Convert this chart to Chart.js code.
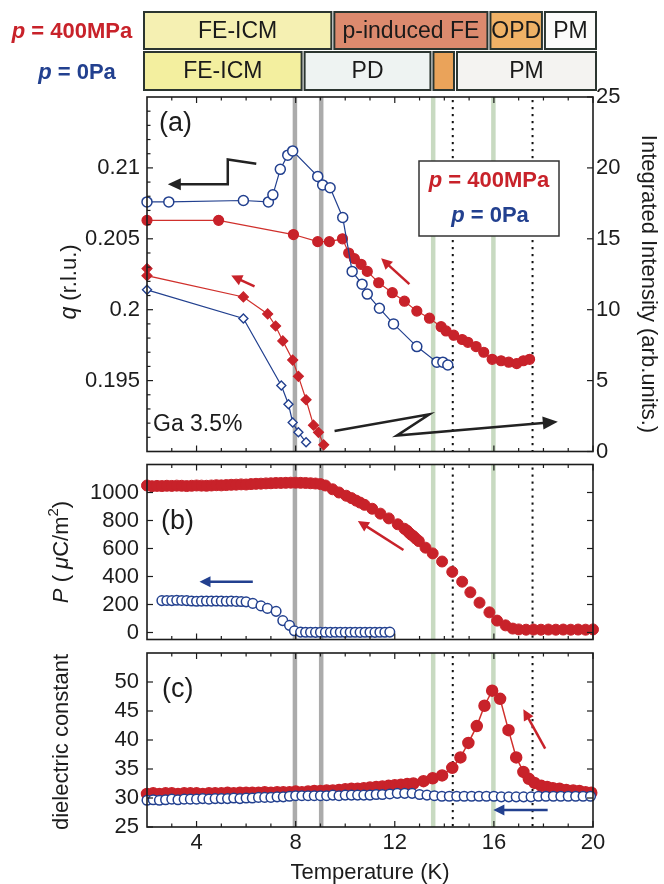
<!DOCTYPE html>
<html><head><meta charset="utf-8">
<script src="https://cdn.jsdelivr.net/npm/chart.js@4.4.0/dist/chart.umd.min.js"></script>
<style>
html,body{margin:0;padding:0;background:#fff;}
#wrap{position:relative;width:664px;height:884px;overflow:hidden;}
canvas{position:absolute;left:0;}
</style></head><body>
<div id="wrap">
<canvas id="cA" style="top:0px" width="664" height="458"></canvas>
<canvas id="cB" style="top:458px" width="664" height="188"></canvas>
<canvas id="cC" style="top:646px" width="664" height="238"></canvas>
</div>
<script>
// ---------------- DATA ----------------
const xTicks = [4, 8, 12, 16, 20];
const xTickLabels = ['4', '8', '12', '16', '20'];
const xMinorTicks = [3, 5, 6, 7, 9, 10, 11, 13, 14, 15, 17, 18, 19];

const grayLinesT = [7.97, 9.03];
const greenLinesT = [13.55, 15.98];
const dottedLinesT = [14.34, 17.56];

const phases400 = ['FE-ICM', 'p-induced FE', 'OPD', 'PM'];
const phases400Bounds = [2, 9.5, 15.8, 18.0, 20];
const phases0 = ['FE-ICM', 'PD', '', 'PM'];
const phases0Bounds = [2, 8.3, 13.5, 14.45, 20];

// panel (a)
const qTicks = [0.195, 0.2, 0.205, 0.21];
const qTickLabels = ['0.195', '0.2', '0.205', '0.21'];
const intTicks = [0, 5, 10, 15, 20, 25];
const intTickLabels = ['0', '5', '10', '15', '20', '25'];

const qBlueT = [2.0, 2.88, 5.89, 6.9, 7.08, 7.38, 7.68, 7.88, 8.89, 9.09, 9.39, 9.9, 10.28, 10.68, 10.89, 11.38, 11.95, 12.89, 13.7, 13.94, 14.14];
const qBlue  = [0.2076, 0.2076, 0.2077, 0.2076, 0.2081, 0.2099, 0.2109, 0.2112, 0.2094, 0.2088, 0.2086, 0.2065, 0.2027, 0.2018, 0.2011, 0.2001, 0.1990, 0.1974, 0.1963, 0.1963, 0.1961];

const qRedT = [2.0, 4.89, 7.91, 8.89, 9.36, 9.89, 10.14, 10.37, 10.64, 10.89, 11.35, 11.9, 12.39, 12.89, 13.4, 13.87, 14.07, 14.38, 14.72, 14.95, 15.28, 15.59, 15.93, 16.29, 16.6, 16.92, 17.19, 17.44];
const qRed  = [0.2063, 0.2063, 0.2053, 0.2048, 0.2048, 0.2050, 0.2040, 0.2036, 0.2032, 0.2027, 0.2019, 0.2012, 0.2006, 0.1999, 0.1994, 0.1988, 0.1985, 0.1982, 0.1979, 0.1977, 0.1974, 0.1970, 0.1965, 0.1964, 0.1963, 0.1962, 0.1964, 0.1965];

const intRedT = [2.0, 2.0, 5.89, 6.87, 7.19, 7.48, 7.88, 8.11, 8.42, 8.72, 8.92, 9.13];
const intRed  = [12.9, 12.4, 10.9, 9.7, 8.85, 7.8, 6.45, 5.3, 3.65, 1.86, 1.35, 0.47];
const intBlueT = [2.0, 5.89, 7.42, 7.71, 7.88, 8.11, 8.42];
const intBlue  = [11.4, 9.38, 4.66, 3.33, 2.05, 1.35, 0.65];

// panel (b)
const pTicks = [0, 200, 400, 600, 800, 1000];
const pTickLabels = ['0', '200', '400', '600', '800', '1000'];
const pRedT = [2.0, 2.2, 2.4, 2.6, 2.8, 3.0, 3.2, 3.4, 3.6, 3.8, 4.0, 4.2, 4.4, 4.6, 4.8, 5.0, 5.2, 5.4, 5.6, 5.8, 6.0, 6.2, 6.4, 6.6, 6.8, 7.0, 7.2, 7.4, 7.6, 7.8, 8.0, 8.2, 8.4, 8.6, 8.8, 9.0,
  9.2, 9.49, 9.75, 10.04, 10.25, 10.44, 10.6, 10.78, 11.09, 11.42, 11.76, 12.12, 12.39, 12.5, 12.58, 12.66, 12.75, 12.85, 12.97, 13.24, 13.53, 13.91, 14.32, 14.72, 15.05, 15.42, 15.82, 16.13, 16.47, 16.76, 17.0, 17.3, 17.6, 17.9, 18.2, 18.5, 18.8, 19.1, 19.4, 19.7, 20.0];
const pRed = [1050, 1045, 1047, 1046, 1048, 1047, 1049, 1048, 1046, 1048, 1050, 1049, 1048, 1050, 1052, 1051, 1053, 1055, 1056, 1058, 1057, 1060, 1062, 1063, 1065, 1066, 1068, 1068, 1069, 1070, 1070, 1069, 1068, 1066, 1064, 1060,
  1050, 1023, 1000, 977, 960, 942, 928, 912, 884, 849, 815, 773, 741, 727, 712, 699, 688, 671, 653, 606, 565, 507, 433, 363, 287, 213, 144, 85, 51, 28, 22, 20, 21, 20, 21, 20, 21, 20, 21, 20, 22];
const pBlueT = [2.6, 2.8, 3.0, 3.2, 3.4, 3.6, 3.8, 4.0, 4.2, 4.4, 4.6, 4.8, 5.0, 5.2, 5.4, 5.6, 5.8, 6.0, 6.27, 6.6, 6.86, 7.21, 7.48, 7.75, 7.95,
  8.2, 8.4, 8.6, 8.8, 9.0, 9.2, 9.4, 9.6, 9.8, 10.0, 10.2, 10.4, 10.6, 10.8, 11.0, 11.2, 11.4, 11.6, 11.8];
const pBlue = [228, 229, 228, 230, 229, 228, 225, 223, 224, 225, 224, 225, 224, 223, 224, 222, 221, 219, 208, 190, 172, 151, 85, 51, 12,
  3, 2, 2, 1, 2, 2, 1, 2, 2, 1, 2, 2, 1, 2, 2, 1, 2, 2, 3];

// panel (c)
const epsTicks = [25, 30, 35, 40, 45, 50];
const epsTickLabels = ['25', '30', '35', '40', '45', '50'];
const epsRightTicks = [30, 35, 40, 45, 50];
const epsRedT = [2.0, 2.25, 2.5, 2.75, 3.0, 3.25, 3.5, 3.75, 4.0, 4.25, 4.5, 4.75, 5.0, 5.25, 5.5, 5.75, 6.0, 6.25, 6.5, 6.75, 7.0, 7.25, 7.5, 7.75, 8.0, 8.25, 8.5, 8.75, 9.0, 9.25, 9.5, 9.75, 10.0, 10.25, 10.5, 10.75, 11.0, 11.25, 11.5, 11.75, 12.0, 12.25, 12.5, 12.75,
  13.16, 13.53, 13.91, 14.32, 14.65, 14.97, 15.31, 15.62, 15.93, 16.25, 16.59, 16.9, 17.19, 17.41, 17.64, 17.91, 18.15, 18.38, 18.65, 18.92, 19.2, 19.45, 19.7, 19.93];
const epsRed = [30.7, 30.8, 30.7, 30.8, 30.8, 30.7, 30.8, 30.8, 30.8, 30.7, 30.8, 30.8, 30.8, 30.9, 30.8, 30.9, 30.9, 30.9, 30.9, 31.0, 30.9, 31.0, 31.0, 31.0, 31.1, 31.0, 31.1, 31.2, 31.2, 31.3, 31.3, 31.4, 31.5, 31.6, 31.6, 31.7, 31.8, 31.9, 32.0, 32.1, 32.2, 32.3, 32.4, 32.5,
  32.9, 33.4, 33.9, 35.2, 37.0, 39.5, 42.4, 45.9, 48.5, 47.1, 41.7, 37.0, 34.5, 33.3, 32.6, 32.1, 31.9, 31.7, 31.6, 31.4, 31.3, 31.2, 31.0, 30.9];
const epsBlueT = [2.0, 2.25, 2.5, 2.75, 3.0, 3.25, 3.5, 3.75, 4.0, 4.25, 4.5, 4.75, 5.0, 5.25, 5.5, 5.75, 6.0, 6.25, 6.5, 6.75, 7.0, 7.25, 7.5, 7.75, 8.0, 8.25, 8.5, 8.75, 9.0, 9.25, 9.5, 9.75, 10.0, 10.25, 10.5, 10.75, 11.0, 11.25, 11.5,
  11.8, 12.1, 12.4, 12.7, 13.0, 13.3, 13.6, 13.9, 14.2, 14.5, 14.8, 15.1, 15.4, 15.7, 16.0, 16.3, 16.6, 16.9, 17.2, 17.5, 17.8, 18.1, 18.4, 18.7, 19.0, 19.3, 19.6, 19.9];
const epsBlue = [29.6, 29.7, 29.6, 29.7, 29.8, 29.7, 29.8, 29.8, 29.8, 29.9, 29.8, 29.9, 29.9, 29.9, 30.0, 29.9, 30.0, 30.0, 30.1, 30.1, 30.1, 30.2, 30.2, 30.3, 30.4, 30.4, 30.4, 30.4, 30.4, 30.4, 30.5, 30.4, 30.5, 30.5, 30.5, 30.5, 30.5, 30.6, 30.6,
  30.7, 30.8, 30.8, 30.8, 30.6, 30.5, 30.4, 30.3, 30.3, 30.3, 30.3, 30.3, 30.3, 30.3, 30.3, 30.2, 30.2, 30.2, 30.2, 30.2, 30.3, 30.3, 30.3, 30.3, 30.3, 30.3, 30.3, 30.3];

// annotation arrows (data coordinates)
const arrowQBlackT = [6.41, 5.26, 5.26, 2.84], arrowQBlackV = [0.2103, 0.2106, 0.20885, 0.20885];
const arrowIntBlackT = [9.57, 13.40, 12.08, 18.58], arrowIntBlackV = [1.45, 2.63, 1.12, 2.10];
const arrowQRed1T = [12.59, 11.45], arrowQRed1V = [0.2018, 0.20362];
const arrowQRed2T = [6.34, 5.40], arrowQRed2V = [0.20164, 0.20241];
const arrowPRedT = [12.35, 10.51], arrowPRedV = [589, 797];
const arrowPBlueT = [6.27, 4.12], arrowPBlueV = [362, 362];
const arrowERedT = [18.07, 17.19], arrowERedV = [38.5, 45.3];
const arrowEBlueT = [18.17, 15.98], arrowEBlueV = [27.95, 27.95];

// ---------------- STYLE / HELPERS ----------------
const FF = '"Liberation Sans", Arial, Helvetica, sans-serif';
const RED = '#c8222a', REDLINE = '#d0302c', BLUE = '#22408f', INK = '#1c1c1c';
Chart.defaults.font.family = FF;
Chart.defaults.color = INK;

const pts = (xs, ys) => xs.map((t, i) => ({x: t, y: ys[i]}));

function drawVLines(chart) {
  const {ctx, chartArea: ca, scales: {x}} = chart;
  ctx.save();
  ctx.beginPath(); ctx.rect(ca.left, ca.top, ca.width, ca.height); ctx.clip();
  ctx.lineWidth = 4.5;
  ctx.strokeStyle = 'rgba(150,150,150,0.8)';
  grayLinesT.forEach(t => { const X = x.getPixelForValue(t); ctx.beginPath(); ctx.moveTo(X, ca.top); ctx.lineTo(X, ca.bottom); ctx.stroke(); });
  ctx.strokeStyle = 'rgba(190,212,182,0.85)';
  greenLinesT.forEach(t => { const X = x.getPixelForValue(t); ctx.beginPath(); ctx.moveTo(X, ca.top); ctx.lineTo(X, ca.bottom); ctx.stroke(); });
  ctx.fillStyle = '#111';
  dottedLinesT.forEach(t => { const X = x.getPixelForValue(t); for (let yy = ca.top + 3; yy < ca.bottom; yy += 7) ctx.fillRect(X - 1, yy, 2, 2.2); });
  ctx.restore();
}
function drawFrameAndXTicks(chart) {
  const {ctx, chartArea: ca, scales: {x}} = chart;
  ctx.save();
  ctx.strokeStyle = INK; ctx.lineWidth = 1.2;
  const tk = (t, len) => { const X = x.getPixelForValue(t);
    ctx.beginPath(); ctx.moveTo(X, ca.bottom); ctx.lineTo(X, ca.bottom - len); ctx.moveTo(X, ca.top); ctx.lineTo(X, ca.top + len); ctx.stroke(); };
  xTicks.forEach(t => tk(t, 6)); xMinorTicks.forEach(t => tk(t, 3.5));
  ctx.lineWidth = 1.6;
  ctx.strokeRect(ca.left, ca.top, ca.width, ca.height);
  ctx.restore();
}
function drawYTicks(chart, scale, values, side, len) {
  const {ctx, chartArea: ca} = chart;
  ctx.save(); ctx.strokeStyle = INK; ctx.lineWidth = 1.2;
  values.forEach(v => { const Y = scale.getPixelForValue(v);
    ctx.beginPath();
    if (side === 'left') { ctx.moveTo(ca.left, Y); ctx.lineTo(ca.left + len, Y); }
    else { ctx.moveTo(ca.right, Y); ctx.lineTo(ca.right - len, Y); }
    ctx.stroke(); });
  ctx.restore();
}
function rich(ctx, parts, x, y, rot) {
  ctx.save(); ctx.translate(x, y); ctx.rotate(rot || 0);
  let w = 0; parts.forEach(p => { ctx.font = p[1]; w += ctx.measureText(p[0]).width; });
  let cx = -w / 2; ctx.textBaseline = 'middle'; ctx.textAlign = 'left';
  parts.forEach(p => { ctx.font = p[1]; ctx.fillStyle = p[3] || INK; ctx.fillText(p[0], cx, p[2] || 0); cx += ctx.measureText(p[0]).width; });
  ctx.restore();
}
function arrow(chart, yScale, ts, vs, color, lw, hl, hw) {
  const {ctx, scales: {x}} = chart;
  const xs = ts.map(t => x.getPixelForValue(t)), ys = vs.map(v => yScale.getPixelForValue(v));
  const n = xs.length, ang = Math.atan2(ys[n - 1] - ys[n - 2], xs[n - 1] - xs[n - 2]);
  const c = Math.cos(ang), s = Math.sin(ang);
  ctx.save(); ctx.strokeStyle = color; ctx.fillStyle = color; ctx.lineWidth = lw; ctx.lineJoin = 'miter';
  ctx.beginPath(); ctx.moveTo(xs[0], ys[0]);
  for (let i = 1; i < n - 1; i++) ctx.lineTo(xs[i], ys[i]);
  ctx.lineTo(xs[n - 1] - c * hl * 0.8, ys[n - 1] - s * hl * 0.8); ctx.stroke();
  ctx.beginPath(); ctx.moveTo(xs[n - 1], ys[n - 1]);
  ctx.lineTo(xs[n - 1] - c * hl - s * hw, ys[n - 1] - s * hl + c * hw);
  ctx.lineTo(xs[n - 1] - c * hl + s * hw, ys[n - 1] - s * hl - c * hw);
  ctx.closePath(); ctx.fill(); ctx.restore();
}
function phaseRow(chart, names, bounds, colors, y0, y1) {
  const {ctx, scales: {x}} = chart;
  ctx.save();
  names.forEach((nm, i) => {
    const L = x.getPixelForValue(bounds[i]) + (i === 0 ? -3 : 1.5);
    const R = x.getPixelForValue(bounds[i + 1]) + (i === names.length - 1 ? 3 : -1.5);
    ctx.fillStyle = colors[i]; ctx.fillRect(L, y0, R - L, y1 - y0);
    ctx.lineWidth = 2; ctx.strokeStyle = '#2b3530'; ctx.strokeRect(L, y0, R - L, y1 - y0);
    if (nm) { ctx.font = '23px ' + FF; ctx.fillStyle = '#1a1a1a'; ctx.textAlign = 'center'; ctx.textBaseline = 'middle';
      ctx.fillText(nm, (L + R) / 2, (y0 + y1) / 2 + 1); }
  });
  ctx.restore();
}
const fixW = w => s => { s.width = w; s.paddingTop = 0; s.paddingBottom = 0; };
const setTicks = arr => s => { s.ticks = arr.map(v => ({value: v})); };
const tickFont = {size: 22, family: FF};
const baseOpts = {responsive: false, animation: false, events: [], devicePixelRatio: 1,
  plugins: {legend: {display: false}, tooltip: {enabled: false}}};
const hidden = {display: false, drawTicks: false};

// ---------------- CHART (a) ----------------
new Chart(document.getElementById('cA'), {
  type: 'scatter',
  data: {datasets: [
    {data: pts(qBlueT, qBlue), yAxisID: 'y', showLine: true, borderColor: BLUE, borderWidth: 1.2, pointRadius: 5, pointBackgroundColor: '#fff', pointBorderColor: BLUE, pointBorderWidth: 1.5, clip: 10},
    {data: pts(qRedT, qRed), yAxisID: 'y', showLine: true, borderColor: REDLINE, borderWidth: 1.2, pointRadius: 5, pointBackgroundColor: RED, pointBorderColor: RED, clip: 10},
    {data: pts(intRedT, intRed), yAxisID: 'y2', showLine: true, borderColor: REDLINE, borderWidth: 1.2, pointStyle: 'rectRot', pointRadius: 5, pointBackgroundColor: RED, pointBorderColor: RED, clip: 10},
    {data: pts(intBlueT, intBlue), yAxisID: 'y2', showLine: true, borderColor: BLUE, borderWidth: 1.2, pointStyle: 'rectRot', pointRadius: 4.5, pointBackgroundColor: '#fff', pointBorderColor: BLUE, pointBorderWidth: 1.4, clip: 10}
  ]},
  options: Object.assign({}, baseOpts, {
    layout: {padding: {top: 97, bottom: 3, left: 0, right: 0}},
    scales: {
      x: {type: 'linear', min: 2, max: 20, display: false},
      y: {position: 'left', min: 0.19, max: 0.215, afterBuildTicks: setTicks(qTicks), afterFit: fixW(147),
          ticks: {autoSkip: false, padding: 7, font: tickFont, callback: (v, i) => qTickLabels[i]}, grid: hidden, border: {display: false}},
      y2: {position: 'right', min: 0, max: 25, afterBuildTicks: setTicks(intTicks), afterFit: fixW(71),
          ticks: {autoSkip: false, padding: 3, font: tickFont, callback: (v, i) => intTickLabels[i]}, grid: hidden, border: {display: false}}
    }
  }),
  plugins: [{id: 'decoA',
    beforeDatasetsDraw(chart) { drawVLines(chart); },
    afterDraw(chart) {
      const {ctx, chartArea: ca, scales: {y, y2}} = chart;
      drawFrameAndXTicks(chart);
      const minor = []; for (let k = 191; k <= 214; k++) if (k % 5) minor.push(k / 1000);
      drawYTicks(chart, y, qTicks, 'left', 6); drawYTicks(chart, y, minor, 'left', 3.5);
      drawYTicks(chart, y2, intTicks, 'right', 6);
      // phase diagram rows
      phaseRow(chart, phases400, phases400Bounds, ['#f5f0b2', '#dc8a6e', '#f0b266', '#fbfbfa'], 12, 49);
      phaseRow(chart, phases0, phases0Bounds, ['#f3ef9f', '#eef3f2', '#eaa35a', '#f4f3f1'], 52, 90);
      const bi = 'italic bold 22px ' + FF, b = 'bold 22px ' + FF;
      rich(ctx, [['p', bi, 0, RED], [' = 400MPa', b, 0, RED]], 72, 32);
      rich(ctx, [['p', bi, 0, BLUE], [' = 0Pa', b, 0, BLUE]], 77, 73);
      // axis titles
      rich(ctx, [['q', 'italic 23px ' + FF], [' (r.l.u.)', '22px ' + FF]], 70, 282, -Math.PI / 2);
      rich(ctx, [['Integrated Intensity (arb.units.)', '22px ' + FF]], 648, 284, Math.PI / 2);
      // labels
      ctx.save(); ctx.fillStyle = INK; ctx.textAlign = 'left'; ctx.textBaseline = 'middle';
      ctx.font = '27px ' + FF; ctx.fillText('(a)', ca.left + 12, ca.top + 27);
      ctx.font = '23px ' + FF; ctx.fillText('Ga 3.5%', ca.left + 6, ca.bottom - 27);
      ctx.restore();
      // legend box
      ctx.save(); ctx.fillStyle = '#fff'; ctx.fillRect(419, 161, 140, 75);
      ctx.strokeStyle = '#333'; ctx.lineWidth = 1.5; ctx.strokeRect(419, 161, 140, 75); ctx.restore();
      rich(ctx, [['p', bi, 0, RED], [' = 400MPa', b, 0, RED]], 489, 181);
      rich(ctx, [['p', bi, 0, BLUE], [' = 0Pa', b, 0, BLUE]], 490, 216);
      // arrows
      arrow(chart, y, arrowQBlackT, arrowQBlackV, '#222', 2.5, 13, 6);
      arrow(chart, y2, arrowIntBlackT, arrowIntBlackV, '#222', 2.5, 15, 6.5);
      arrow(chart, y, arrowQRed1T, arrowQRed1V, RED, 2.5, 11, 5.5);
      arrow(chart, y, arrowQRed2T, arrowQRed2V, RED, 2.5, 11, 5.5);
    }}]
});

// ---------------- CHART (b) ----------------
new Chart(document.getElementById('cB'), {
  type: 'scatter',
  data: {datasets: [
    {data: pts(pBlueT, pBlue), showLine: false, pointRadius: 4.8, pointBackgroundColor: '#fff', pointBorderColor: BLUE, pointBorderWidth: 1.5, clip: 10, order: 0},
    {data: pts(pRedT, pRed), showLine: false, pointRadius: 5.5, pointBackgroundColor: RED, pointBorderColor: RED, clip: 10, order: 1}
  ]},
  options: Object.assign({}, baseOpts, {
    layout: {padding: {top: 4, bottom: 4, left: 0, right: 71}},
    scales: {
      x: {type: 'linear', min: 2, max: 20, display: false},
      y: {position: 'left', min: -50, max: 1200, afterBuildTicks: setTicks(pTicks), afterFit: fixW(147),
          ticks: {autoSkip: false, padding: 8, font: tickFont, callback: (v, i) => pTickLabels[i]}, grid: hidden, border: {display: false}}
    }
  }),
  plugins: [{id: 'decoB',
    beforeDatasetsDraw(chart) { drawVLines(chart); },
    afterDraw(chart) {
      const {ctx, chartArea: ca, scales: {y}} = chart;
      drawFrameAndXTicks(chart);
      drawYTicks(chart, y, pTicks, 'left', 6); drawYTicks(chart, y, pTicks, 'right', 6);
      rich(ctx, [['P', 'italic 22px ' + FF], [' ( ', '22px ' + FF], ['\u03bc', 'italic 22px ' + FF], ['C/m', '22px ' + FF], ['2', '15px ' + FF, -8], [')', '22px ' + FF]], 62, 94, -Math.PI / 2);
      ctx.save(); ctx.fillStyle = INK; ctx.textAlign = 'left'; ctx.textBaseline = 'middle';
      ctx.font = '27px ' + FF; ctx.fillText('(b)', ca.left + 14, 64); ctx.restore();
      arrow(chart, y, arrowPRedT, arrowPRedV, RED, 2.5, 11, 5.5);
      arrow(chart, y, arrowPBlueT, arrowPBlueV, BLUE, 2.5, 11, 5.5);
    }}]
});

// ---------------- CHART (c) ----------------
new Chart(document.getElementById('cC'), {
  type: 'scatter',
  data: {datasets: [
    {data: pts(epsBlueT, epsBlue), showLine: false, pointRadius: 4.8, pointBackgroundColor: '#fff', pointBorderColor: BLUE, pointBorderWidth: 1.5, clip: 10, order: 0},
    {data: pts(epsRedT, epsRed), showLine: true, borderColor: REDLINE, borderWidth: 1.5, pointRadius: 5.5, pointBackgroundColor: RED, pointBorderColor: RED, clip: 10, order: 1}
  ]},
  options: Object.assign({}, baseOpts, {
    layout: {padding: {top: 2, bottom: 0, left: 0, right: 71}},
    scales: {
      x: {type: 'linear', position: 'bottom', min: 2, max: 20, afterBuildTicks: setTicks(xTicks),
          afterFit: s => { s.height = 57; s.paddingLeft = 0; s.paddingRight = 0; },
          ticks: {autoSkip: false, maxRotation: 0, padding: 3, font: {size: 22, family: FF, lineHeight: 1.2}, callback: (v, i) => xTickLabels[i]},
          grid: hidden, border: {display: false},
          title: {display: true, text: 'Temperature (K)', font: {size: 22, family: FF, lineHeight: 1}, padding: {top: 0, bottom: 0}, color: INK}},
      y: {position: 'left', min: 25, max: 55, afterBuildTicks: setTicks(epsTicks), afterFit: fixW(147),
          ticks: {autoSkip: false, padding: 8, font: tickFont, callback: (v, i) => epsTickLabels[i]}, grid: hidden, border: {display: false}}
    }
  }),
  plugins: [{id: 'decoC',
    beforeDatasetsDraw(chart) { drawVLines(chart); },
    afterDraw(chart) {
      const {ctx, chartArea: ca, scales: {y}} = chart;
      drawFrameAndXTicks(chart);
      drawYTicks(chart, y, epsTicks, 'left', 6); drawYTicks(chart, y, epsRightTicks, 'right', 6);
      rich(ctx, [['dielectric constant', '22px ' + FF]], 62, 96, -Math.PI / 2);
      ctx.save(); ctx.fillStyle = INK; ctx.textAlign = 'left'; ctx.textBaseline = 'middle';
      ctx.font = '27px ' + FF; ctx.fillText('(c)', ca.left + 15, 44); ctx.restore();
      arrow(chart, y, arrowERedT, arrowERedV, RED, 2.5, 11, 5.5);
      arrow(chart, y, arrowEBlueT, arrowEBlueV, BLUE, 2.5, 11, 5.5);
    }}]
});
</script>
</body></html>
